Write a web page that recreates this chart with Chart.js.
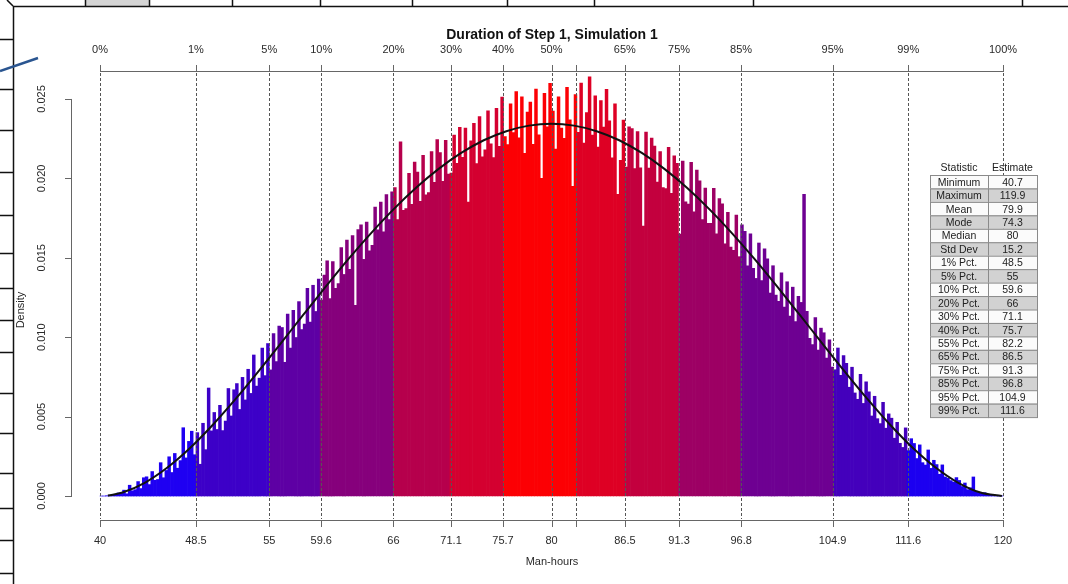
<!DOCTYPE html>
<html>
<head>
<meta charset="utf-8">
<script src="https://cdn.jsdelivr.net/npm/chart.js@4.4.1/dist/chart.umd.min.js"></script>
<style>
  html, body { margin: 0; padding: 0; background: #fff; }
  canvas { display: block; }
</style>
</head>
<body>
<canvas id="myChart" width="1068" height="584"></canvas>
<script>
// histogram: density x 1e-5, bins of 0.25 man-hours starting at 40
var binStart = 40;
var binWidth = 0.25;
var densityE5 = [
  0,0,2,5, 10,8,19,17, 37,14,68,33, 40,91,47,115, 121,72,154,99,
  104,210,115,161, 247,148,268,175, 223,430,240,344, 408,260,399,200, 458,292,680,410,
  526,419,571,412, 472,677,504,669, 708,545,747,605, 798,646,888,692, 742,932,758,960,
  794,1023,847,1070, 1061,842,1146,931, 1169,998,1224,1048, 1082,1308,1095,1327, 1162,1366,1234,1391,
  1481,1243,1476,1307, 1337,1565,1395,1612, 1428,1640,1200,1677, 1707,1490,1725,1543, 1579,1819,1676,1851,
  1663,1898,1740,1915, 1942,1741,2230,1798, 1810,2032,1837,2102, 2039,1856,2145,1896, 1911,2169,1975,2244,
  2162,1981,2240,2027, 2034,2273,2094,2321, 2132,2317,1850,2237, 2346,2093,2389,2136, 2180,2425,2217,2131,
  2441,2202,2512,2263, 2212,2470,2288,2546, 2255,2514,2158,2418, 2480,2214,2562,2274, 2000,2536,2325,2599,
  2424,2184,2514,2317, 2252,2573,2368,1950, 2528,2290,2600,2222, 2414,2640,2272,2520, 2197,2490,2323,2560,
  2362,2129,2469,1900, 2114,2367,2071,2324, 2314,2062,2295,2066, 1700,2292,2064,2254, 2203,1976,2168,1942,
  1936,2195,1905,2142, 2094,1650,2109,1852, 1838,2101,1790,2052, 1985,1741,1939,1717, 1717,1938,1651,1872,
  1840,1588,1786,1568, 1547,1769,1507,1707, 1666,1450,1651,1433, 1370,1593,1356,1557, 1494,1278,1450,1265,
  1226,1406,1190,1349, 1133,1315,1099,1258, 1219,1900,1163,993, 953,1124,919,1057, 1028,869,983,812,
  795,932,760,885, 835,685,811,649, 609,766,583,719, 656,504,628,487, 456,590,427,517,
  490,364,464,332, 306,429,286,361, 331,236,322,210, 195,290,174,225, 198,137,196,120,
  112,97,88,116, 98,60,82,40, 52,120,30,22, 17,21,9,10, 5,2,3,1
];

// density curve
var curveX = [40.7,42,44,46,48,50,52,54,56,58,60,62,64,66,68,70,72,74,76,78,80,
              82,84,86,88,90,92,94,96,98,100,102,104,106,108,110,112,114,116,118,119.9];
var curveE5 = [3,22,85,181,304,449,610,782,960,1140,1318,1491,1654,1805,1941,2060,2160,2240,2297,2332,2344,
               2332,2297,2240,2160,2060,1941,1805,1654,1491,1318,1140,960,782,610,449,304,181,85,22,0];

// quantiles (bottom values, top percent labels)
var quantValues = [40,48.5,55,59.6,66,71.1,75.7,80,82.2,86.5,91.3,96.8,104.9,111.6,120];
var bottomLabels = ["40","48.5","55","59.6","66","71.1","75.7","80","","86.5","91.3","96.8","104.9","111.6","120"];
var topLabels = ["0%","1%","5%","10%","20%","30%","40%","50%","","65%","75%","85%","95%","99%","100%"];
var bandColors = ["#1f00f2","#3d00c8","#5e00a4","#86007c","#b6004c","#d40030","#fc0004",
                  "#fc0004","#de0024","#c3003e","#9d0064","#6e0092","#4400bc","#1c00f0"];

var yTicks = [0,0.005,0.01,0.015,0.02,0.025];
var yLabels = ["0.000","0.005","0.010","0.015","0.020","0.025"];

var statNames = ["Minimum","Maximum","Mean","Mode","Median","Std Dev","1% Pct.","5% Pct.","10% Pct.",
                 "20% Pct.","30% Pct.","40% Pct.","55% Pct.","65% Pct.","75% Pct.","85% Pct.","95% Pct.","99% Pct."];
var statValues = ["40.7","119.9","79.9","74.3","80","15.2","48.5","55","59.6",
                  "66","71.1","75.7","82.2","86.5","91.3","96.8","104.9","111.6"];

function bandColor(x) {
  for (var k = 0; k < bandColors.length; k++) {
    if (x < quantValues[k + 1]) return bandColors[k];
  }
  return bandColors[bandColors.length - 1];
}

var barData = [];
var barColors = [];
for (var i = 0; i < densityE5.length; i++) {
  var cx = binStart + binWidth * (i + 0.5);
  barData.push({ x: cx, y: densityE5[i] / 100000 });
  barColors.push(bandColor(cx));
}
var curveData = [];
for (var j = 0; j < curveX.length; j++) {
  curveData.push({ x: curveX[j], y: curveE5[j] / 100000 });
}

var FONT = '"Liberation Sans", Arial, sans-serif';

// window frame + R style axes + table
var rPlot = {
  id: 'rPlot',
  beforeDraw: function (chart) {
    var c = chart.ctx;
    c.save();
    c.fillStyle = '#d4d4d4';
    c.fillRect(85, 0, 64, 6);
    c.strokeStyle = '#111';
    c.lineWidth = 1.5;
    c.beginPath();
    c.moveTo(13, 6.5); c.lineTo(1068, 6.5);
    c.moveTo(13.5, 6); c.lineTo(13.5, 584);
    c.moveTo(7, 0); c.lineTo(13, 6);
    [85, 149, 232, 320, 412, 507, 594, 753, 1022].forEach(function (x) {
      c.moveTo(x + 0.5, 0); c.lineTo(x + 0.5, 6);
    });
    [39, 89, 130, 172, 215, 253, 288, 320, 352, 393, 433, 473, 508, 540, 573].forEach(function (y) {
      c.moveTo(0, y + 0.5); c.lineTo(13, y + 0.5);
    });
    c.stroke();
    c.strokeStyle = '#2a5590';
    c.lineWidth = 2.5;
    c.beginPath();
    c.moveTo(0, 71); c.lineTo(38, 58);
    c.stroke();
    c.restore();
  },
  afterDatasetDraw: function (chart, args) {
    if (args.index !== 1) return;
    var c = chart.ctx, xs = chart.scales.x;
    c.save();
    c.strokeStyle = '#555';
    c.lineWidth = 1;
    c.setLineDash([3, 2]);
    c.beginPath();
    quantValues.forEach(function (v) {
      var px = Math.round(xs.getPixelForValue(v)) + 0.5;
      c.moveTo(px, 73); c.lineTo(px, 519);
    });
    c.stroke();
    c.restore();
  },
  afterDraw: function (chart) {
    var c = chart.ctx, xs = chart.scales.x, ys = chart.scales.y;
    var x0 = xs.getPixelForValue(40), x1 = xs.getPixelForValue(120);
    c.save();
    c.strokeStyle = '#666';
    c.lineWidth = 1;
    c.beginPath();
    // bottom axis
    c.moveTo(x0, 520.5); c.lineTo(x1, 520.5);
    // top axis
    c.moveTo(x0, 71.5); c.lineTo(x1, 71.5);
    quantValues.forEach(function (v) {
      var px = Math.round(xs.getPixelForValue(v)) + 0.5;
      c.moveTo(px, 520); c.lineTo(px, 527);
      c.moveTo(px, 65); c.lineTo(px, 72);
    });
    // left axis
    var yA = ys.getPixelForValue(0), yB = ys.getPixelForValue(0.025);
    c.moveTo(71.5, yA); c.lineTo(71.5, yB);
    yTicks.forEach(function (v) {
      var py = Math.round(ys.getPixelForValue(v)) + 0.5;
      c.moveTo(65, py); c.lineTo(72, py);
    });
    c.stroke();

    c.fillStyle = '#2a2a2a';
    c.font = '11px ' + FONT;
    c.textAlign = 'center';
    c.textBaseline = 'middle';
    quantValues.forEach(function (v, k) {
      var px = xs.getPixelForValue(v);
      if (bottomLabels[k]) c.fillText(bottomLabels[k], px, 541);
      if (topLabels[k]) c.fillText(topLabels[k], px, 50);
    });
    c.fillText('Man-hours', 552, 562);
    yTicks.forEach(function (v, k) {
      c.save();
      c.translate(42, ys.getPixelForValue(v));
      c.rotate(-Math.PI / 2);
      c.fillText(yLabels[k], 0, 0);
      c.restore();
    });
    c.save();
    c.translate(21, 310);
    c.rotate(-Math.PI / 2);
    c.fillText('Density', 0, 0);
    c.restore();

    c.fillStyle = '#111';
    c.font = 'bold 14px ' + FONT;
    c.fillText('Duration of Step 1, Simulation 1', 552, 35);

    // statistics table
    var tl = 930, tm = 988, tr = 1037, top = 175, rh = 13.45;
    c.font = '10.5px ' + FONT;
    c.fillStyle = '#222';
    c.fillText('Statistic', (tl + tm) / 2, 168);
    c.fillText('Estimate', (tm + tr) / 2, 168);
    for (var r = 0; r < statNames.length; r++) {
      var ry = top + r * rh;
      c.fillStyle = (r % 2 === 1) ? '#d2d2d2' : '#fbfbfb';
      c.fillRect(tl, ry, tr - tl, rh);
      c.strokeStyle = '#8a8a8a';
      c.strokeRect(tl + 0.5, ry + 0.5, tm - tl, rh);
      c.strokeRect(tm + 0.5, ry + 0.5, tr - tm, rh);
      c.fillStyle = '#222';
      c.fillText(statNames[r], (tl + tm) / 2, ry + rh / 2 + 1);
      c.fillText(statValues[r], (tm + tr) / 2, ry + rh / 2 + 1);
    }
    c.restore();
  }
};

var config = {
  type: 'bar',
  data: {
    datasets: [
      {
        type: 'line',
        data: curveData,
        borderColor: '#111',
        borderWidth: 2,
        pointRadius: 0,
        fill: false,
        cubicInterpolationMode: 'monotone'
      },
      {
        type: 'bar',
        data: barData,
        backgroundColor: barColors,
        borderWidth: 0,
        barPercentage: 1,
        categoryPercentage: 1
      }
    ]
  },
  options: {
    responsive: false,
    animation: false,
    layout: { padding: { left: 72, right: 37, top: 71, bottom: 64 } },
    plugins: {
      legend: { display: false },
      tooltip: { enabled: false },
      title: { display: false }
    },
    scales: {
      x: { type: 'linear', min: 37.519, max: 122.481, offset: false, display: false },
      y: { type: 'linear', min: -0.00151, max: 0.02676, display: false }
    }
  },
  plugins: [rPlot]
};

var myChart = new Chart(document.getElementById('myChart'), config);
</script>
</body>
</html>
